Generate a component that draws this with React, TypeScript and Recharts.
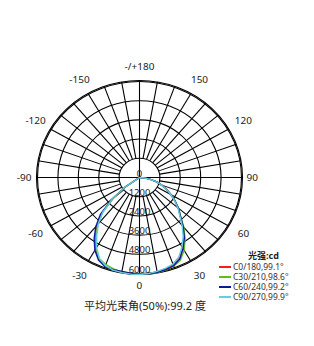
import { RadarChart, Radar, PolarGrid, PolarAngleAxis, PolarRadiusAxis } from "recharts";

// ---------------------------------------------------------------------------
// Data (gamma angle in degrees, 0 = straight down, positive to the right)
// ---------------------------------------------------------------------------

const gammaAngles = [
  -90, -85, -80, -75, -70, -65, -60, -55, -50, -45, -40, -35, -30, -25, -20, -15, -10, -5, 0,
  5, 10, 15, 20, 25, 30, 35, 40, 45, 50, 55, 60, 65, 70, 75, 80, 85, 90,
];

const c0Values = [
  0, 0, 0, 0, 0, 0, 0, 1000, 2050, 3100, 3850, 4500, 5150, 5650, 5880, 5960, 5990, 6030, 6050,
  6040, 5980, 5900, 5800, 5560, 5100, 4580, 3980, 3380, 2980, 2540, 2130, 1740, 1390, 1040, 640, 290, 0,
];
const c30Values = [
  0, 0, 0, 0, 0, 0, 0, 980, 2000, 3050, 3820, 4480, 5120, 5600, 5780, 5900, 5980, 6020, 6040,
  6060, 6040, 5980, 5900, 5700, 5250, 4680, 4050, 3420, 3000, 2560, 2150, 1760, 1400, 1050, 650, 300, 0,
];
const c60Values = [
  0, 0, 0, 0, 0, 0, 0, 1050, 2150, 3250, 4000, 4650, 5250, 5700, 5920, 5950, 5960, 6000, 6040,
  6060, 6020, 5950, 5870, 5620, 5120, 4600, 4000, 3400, 2990, 2550, 2140, 1750, 1400, 1050, 650, 300, 0,
];
const c90Values = [
  0, 0, 0, 0, 0, 0, 0, 1050, 2100, 3050, 3750, 4380, 5050, 5580, 5860, 5990, 6030, 6060, 6060,
  6020, 5960, 5870, 5750, 5480, 5000, 4480, 3900, 3350, 2950, 2530, 2120, 1730, 1380, 1030, 640, 290, 0,
];

const seriesKeys = ["c0", "c30", "c60", "c90"];
const seriesNames = ["C0/180,99.1°", "C30/210,98.6°", "C60/240,99.2°", "C90/270,99.9°"];
const seriesColors = ["#ff1a1a", "#5cbf1c", "#0a1aa0", "#62cde6"];

const angleTicks = [-150, -120, -90, -60, -30, 0, 30, 60, 90, 120, 150, 180];
const radiusTicks = [0, 1200, 2400, 3600, 4800, 6000];

const legendTitle = "光强:cd";
const caption = "平均光束角(50%):99.2 度";

const data = gammaAngles.map((angle, i) => ({
  angle,
  c0: c0Values[i],
  c30: c30Values[i],
  c60: c60Values[i],
  c90: c90Values[i],
}));

// ---------------------------------------------------------------------------
// Layout
// ---------------------------------------------------------------------------

const W = 314;
const H = 346;
const CX = 139.5;
const CY = 177.5;
const R = 103;
const SQUASH = 0.942; // the original diagram is a little flatter than round
const FONT = "'Noto Sans', 'Noto Sans CJK SC', sans-serif";

const spokeAngles = Array.from({ length: 36 }, (_, i) => i * 10).filter((a) => a % 90 !== 0);

function AngleTick(props: any) {
  const g = props.payload.value as number;
  const rad = (g * Math.PI) / 180;
  const sx = Math.sin(rad);
  const sy = Math.cos(rad);
  const label = g === 180 ? "-/+180" : String(g);
  if (Math.abs(sx) > 0.99) {
    return (
      <text
        x={sx > 0 ? CX + R + 4 : CX - R - 5}
        y={CY}
        textAnchor={sx > 0 ? "start" : "end"}
        dominantBaseline="central"
        fontSize={10}
        fontFamily={FONT}
        fill="#222"
      >
        {label}
      </text>
    );
  }
  const d = g === 0 ? 12 : g === 180 ? 15 : 17;
  return (
    <text
      x={CX + (R + d) * sx}
      y={CY + (R + d) * sy}
      textAnchor="middle"
      dominantBaseline="central"
      fontSize={10}
      fontFamily={FONT}
      fill="#222"
    >
      {label}
    </text>
  );
}

function RadiusTick(props: any) {
  const { x, y, payload } = props;
  return (
    <text x={x} y={y - 1} textAnchor="middle" fontSize={9.5} fontFamily={FONT} fill="#222">
      {payload.value}
    </text>
  );
}

export default function App() {
  return (
    <div style={{ position: "absolute", left: 0, top: 0, width: W, height: H, background: "#fff" }}>
      <div
        style={{
          position: "absolute",
          left: 0,
          top: 0,
          width: W,
          height: H,
          transform: `scaleY(${SQUASH})`,
          transformOrigin: `${CX}px ${CY}px`,
        }}
      >
        {/* spokes every 10 degrees, starting from the first ring */}
        <div style={{ position: "absolute", left: 0, top: 0 }}>
          <RadarChart
            width={W}
            height={H}
            data={data}
            cx={CX}
            cy={CY}
            innerRadius={R / 5}
            outerRadius={R}
            startAngle={-270}
            endAngle={90}
            margin={{ top: 0, right: 0, bottom: 0, left: 0 }}
          >
            <PolarGrid
              gridType="circle"
              polarAngles={spokeAngles}
              polarRadius={[R]}
              stroke="#000"
              strokeWidth={1.1}
            />
            <PolarAngleAxis dataKey="angle" type="number" domain={[-180, 180]} tick={false} axisLine={false} tickLine={false} />
            <PolarRadiusAxis domain={[0, 6000]} tick={false} axisLine={false} tickLine={false} />
          </RadarChart>
        </div>

        {/* rings, main axes, labels and curves */}
        <div style={{ position: "absolute", left: 0, top: 0 }}>
          <RadarChart
            width={W}
            height={H}
            data={data}
            cx={CX}
            cy={CY}
            innerRadius={0}
            outerRadius={R}
            startAngle={-270}
            endAngle={90}
            margin={{ top: 0, right: 0, bottom: 0, left: 0 }}
          >
            <PolarGrid gridType="circle" polarAngles={[0, 90, 180, 270]} stroke="#000" strokeWidth={1.1} />
            <PolarAngleAxis
              dataKey="angle"
              type="number"
              domain={[-180, 180]}
              ticks={angleTicks}
              tick={AngleTick}
              axisLine={false}
              tickLine={false}
            />
            <PolarRadiusAxis
              angle={-90}
              type="number"
              domain={[0, 6000]}
              ticks={radiusTicks}
              tick={RadiusTick}
              axisLine={false}
              tickLine={false}
            />
            {seriesKeys.map((k, i) => (
              <Radar
                key={k}
                dataKey={k}
                name={seriesNames[i]}
                stroke={seriesColors[i]}
                strokeWidth={1.4}
                fill="none"
                fillOpacity={0}
                dot={false}
                isAnimationActive={false}
              />
            ))}
          </RadarChart>
        </div>
      </div>

      {/* legend */}
      <div
        style={{
          position: "absolute",
          left: 248,
          top: 250,
          height: 11,
          fontFamily: FONT,
          fontSize: 9,
          fontWeight: 700,
          color: "#222",
          lineHeight: "11px",
        }}
      >
        {legendTitle}
      </div>
      {seriesNames.map((name, i) => (
        <div
          key={name}
          style={{
            position: "absolute",
            left: 219,
            top: 262 + i * 10,
            height: 10,
            lineHeight: "10px",
            display: "flex",
            alignItems: "center",
            fontFamily: FONT,
            fontSize: 8.5,
            color: "#333",
            whiteSpace: "nowrap",
          }}
        >
          <span style={{ display: "inline-block", width: 12, height: 1.5, background: seriesColors[i], marginRight: 2 }} />
          {name}
        </div>
      ))}

      {/* caption */}
      <div
        style={{
          position: "absolute",
          left: 84,
          top: 298,
          fontFamily: FONT,
          fontSize: 11,
          color: "#222",
          whiteSpace: "nowrap",
          lineHeight: "16px",
        }}
      >
        {caption}
      </div>
    </div>
  );
}
